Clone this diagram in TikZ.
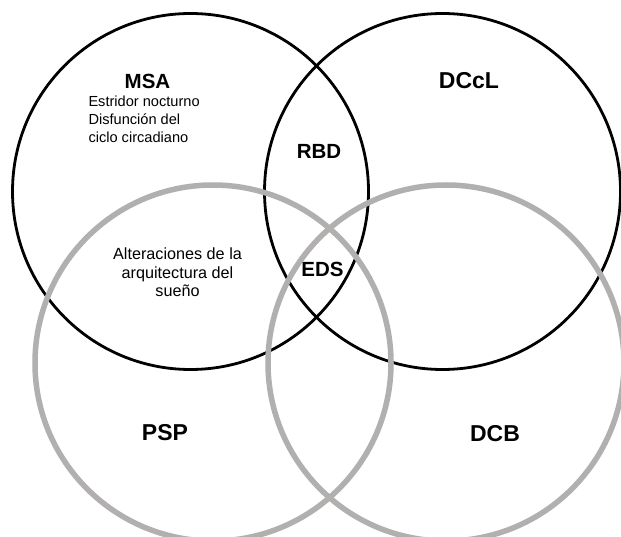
\documentclass[tikz,border=0pt]{standalone}
\usepackage{fontspec}
\setmainfont{Liberation Sans}
\begin{document}
\begin{tikzpicture}[x=1bp,y=-1bp,
  ring/.style={circle,draw,inner sep=0pt,minimum size=356bp},
  blackring/.style={ring,draw=black,line width=2.8bp},
  grayring/.style={ring,draw=ringgray,line width=5.5bp},
  biglabel/.style={font=\bfseries\fontsize{20.5bp}{24bp}\selectfont,inner sep=0pt,anchor=base},
  hugelabel/.style={font=\bfseries\fontsize{23bp}{27bp}\selectfont,inner sep=0pt,anchor=base},
  note/.style={inner sep=0pt}]
\definecolor{ringgray}{RGB}{178,175,175}
\useasboundingbox (0,0) rectangle (621,537);
\fill[white] (0,0) rectangle (621,537);
% the two sleep-disorder sets in black
\node[blackring] (msa)  at (190.5,191.5) {};
\node[blackring] (dccl) at (442.5,191.5) {};
% the two tauopathy sets in gray
\node[grayring]  (psp)  at (213,363) {};
\node[grayring]  (dcb)  at (446,363) {};
% set names
\node[biglabel]  (msalab)  at (147.5,88.4) {MSA};
\node[hugelabel] (dccllab) at (469,88.5) {DCcL};
\node[biglabel]  (rbd)     at (319,158.5) {RBD};
\node[biglabel]  (eds)     at (322.5,276.5) {EDS};
\node[hugelabel] (psplab)  at (165,440) {PSP};
\node[hugelabel] (dcblab)  at (495,441) {DCB};
% descriptive notes
\node[note,anchor=north west,align=left,
      font=\fontsize{14.6bp}{17.6bp}\selectfont] (msanote) at (88.3,96.2)
  {Estridor nocturno\\Disfunción del\\ciclo circadiano};
\node[note,anchor=north,align=center,
      font=\fontsize{16.2bp}{18.5bp}\selectfont] (arch) at (177.5,247.6)
  {Alteraciones de la\\arquitectura del\\sueño};
\end{tikzpicture}
\end{document}
